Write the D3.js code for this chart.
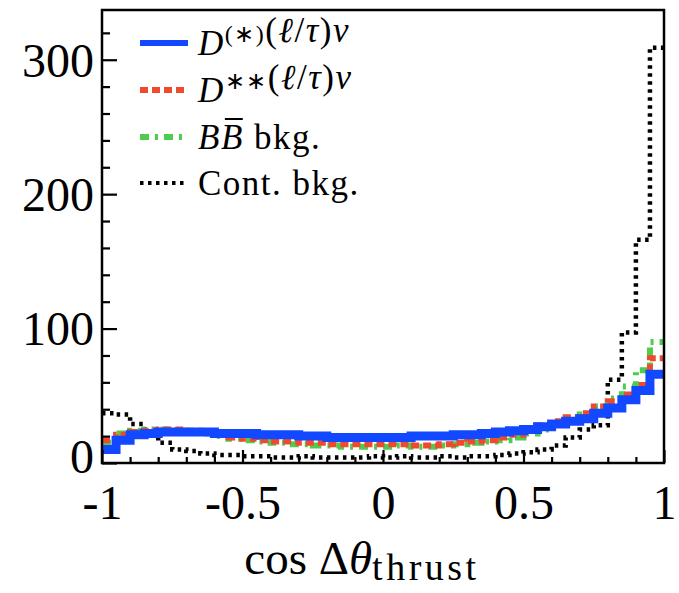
<!DOCTYPE html>
<html>
<head>
<meta charset="utf-8">
<script src="https://cdn.jsdelivr.net/npm/d3@7"></script>
<style>
  html, body { margin: 0; padding: 0; background: #fff; }
  svg { display: block; }
  text { font-family: "Liberation Serif", "Times New Roman", serif; fill: #000; }
</style>
</head>
<body>
<svg id="chart" width="679" height="593"></svg>
<script>
// ---- data (40 bins from -1 to 1) ----
const binEdges = d3.range(41).map(i => -1 + i * 0.05);
const dStar   = [10,17,21,22,23,23,23,23,22,22,22,21,21,21,20,20,19,19,19,19,19,19,20,20,20,21,21,22,23,24,25,27,29,31,33,37,41,47,54,66];
const dStarStar = [17,21,23,24,25,25,24,23,21,19,18,17,16,16,15,15,14,14,14,14,14,14,13,13,14,15,16,17,19,21,24,28,31,34,37,42,46,51,58,78];
const bbBkg   = [15,22,24,25,25,24,23,22,20,18,17,16,15,14,14,13,13,12,12,12,12,13,12,12,13,14,15,16,17,19,22,25,29,32,36,42,48,57,69,90];
const contBkg = [37,36,29,23,15,10,9,7,6,6,5,5,4,4,5,4,4,4,4,5,4,5,4,4,5,4,5,5,6,7,8,10,13,19,25,28,62,97,166,309];
const xMajorTicks = [-1, -0.5, 0, 0.5, 1];
const xTickLabels = ["-1", "-0.5", "0", "0.5", "1"];
const yMajorTicks = [0, 100, 200, 300];
const yTickLabels = ["0", "100", "200", "300"];
const legendLabels = ["D(*)(l/t)v", "D**(l/t)v", "BB bkg.", "Cont. bkg."];

// ---- layout ----
const svg = d3.select("#chart");
const L = 102, R = 664, T = 10, B = 463;
const x = d3.scaleLinear().domain([-1, 1]).range([L, R]);
const y = d3.scaleLinear().domain([0, 337]).range([B, T]);

const series = [
  { data: contBkg,   color: "#000000", width: 4.5, dash: "3.5,4.5" },
  { data: bbBkg,     color: "#4dcc4d", width: 6, dash: "9,6,3,6" },
  { data: dStarStar, color: "#f04a2e", width: 6, dash: "8,4" },
  { data: dStar,     color: "#1248ff", width: 9, dash: null }
];

const line = d3.line().x(d => x(d[0])).y(d => y(d[1])).curve(d3.curveStepAfter);

svg.append("defs").append("clipPath").attr("id", "plotclip")
  .append("rect").attr("x", L).attr("y", T).attr("width", R - L).attr("height", B - T);

const plot = svg.append("g").attr("clip-path", "url(#plotclip)");
series.forEach(s => {
  const pts = s.data.map((v, i) => [binEdges[i], v]);
  pts.push([binEdges[40], s.data[39]]);
  plot.append("path")
    .attr("d", line(pts))
    .attr("fill", "none")
    .attr("stroke", s.color)
    .attr("stroke-width", s.width)
    .attr("stroke-dasharray", s.dash)
    .attr("stroke-linejoin", "miter");
});

// ---- axes ----
const xMinor = d3.range(-10, 11).map(i => i / 10).filter(v => !xMajorTicks.some(m => Math.abs(m - v) < 1e-9));
const yMinor = d3.range(0, 337, 20).filter(v => v % 100 !== 0);

const xAxisMajor = d3.axisBottom(x).tickValues(xMajorTicks).tickSizeInner(-13).tickSizeOuter(0)
  .tickPadding(22).tickFormat((d, i) => xTickLabels[i]);
const xAxisMinor = d3.axisBottom(x).tickValues(xMinor).tickSizeInner(-6).tickSizeOuter(0).tickFormat("");
const yAxisMajor = d3.axisLeft(y).tickValues(yMajorTicks).tickSizeInner(-15).tickSizeOuter(0)
  .tickPadding(8).tickFormat((d, i) => yTickLabels[i]);
const yAxisMinor = d3.axisLeft(y).tickValues(yMinor).tickSizeInner(-8).tickSizeOuter(0).tickFormat("");

function styleAxis(g) {
  g.select(".domain").remove();
  g.selectAll("line").attr("stroke", "#000").attr("stroke-width", 2.2);
  g.selectAll("text").attr("font-family", "Liberation Serif, serif").attr("font-size", 48).attr("fill", "#000");
}
svg.append("g").attr("transform", `translate(0,${B})`).call(xAxisMinor).call(styleAxis);
svg.append("g").attr("transform", `translate(0,${B})`).call(xAxisMajor).call(styleAxis);
svg.append("g").attr("transform", `translate(${L},0)`).call(yAxisMinor).call(styleAxis);
const yg = svg.append("g").attr("transform", `translate(${L},0)`).call(yAxisMajor).call(styleAxis);
yg.selectAll("text").attr("dy", d => d === 0 ? "0.2em" : "0.34em");

// frame
svg.append("rect").attr("x", L).attr("y", T).attr("width", R - L).attr("height", B - T)
  .attr("fill", "none").attr("stroke", "#000").attr("stroke-width", 2.5);

// ---- x title ----
const xt = svg.append("text").attr("x", 362).attr("y", 574).attr("text-anchor", "middle").attr("font-size", 47);
xt.append("tspan").text("cos Δ");
xt.append("tspan").attr("font-style", "italic").text("θ");
xt.append("tspan").attr("font-size", 38).attr("dy", 6).attr("letter-spacing", 3.5).text("thrust");

// ---- legend ----
const legendY = [43, 90, 137, 183];
const legendSeries = [series[3], series[2], series[1], series[0]];
legendSeries.forEach((s, i) => {
  svg.append("line").attr("x1", 140).attr("x2", 188).attr("y1", legendY[i]).attr("y2", legendY[i])
    .attr("stroke", s.color).attr("stroke-width", i === 0 ? 6 : (i === 3 ? 4 : 6))
    .attr("stroke-dasharray", s.dash);
});
const lx = 198, fs = 35;
function legText(i) {
  return svg.append("text").attr("x", lx).attr("y", legendY[i] + 12).attr("font-size", fs)
    .attr("letter-spacing", 1.5).attr("data-label", legendLabels[i]);
}
function mathTail(t) {
  t.append("tspan").text("(");
  t.append("tspan").attr("font-style", "italic").text("ℓ");
  t.append("tspan").text("/");
  t.append("tspan").attr("font-style", "italic").text("τ");
  t.append("tspan").text(")");
  t.append("tspan").attr("font-style", "italic").text("ν");
}
let t0 = legText(0);
t0.append("tspan").attr("font-style", "italic").text("D");
t0.append("tspan").attr("font-size", 24).attr("dy", -13).text("(∗)");
t0.append("tspan").attr("dy", 13).text("");
mathTail(t0);
let t1 = legText(1);
t1.append("tspan").attr("font-style", "italic").text("D");
t1.append("tspan").attr("font-size", 24).attr("dy", -13).text("∗∗");
t1.append("tspan").attr("dy", 13).text("");
mathTail(t1);
let t2 = legText(2);
t2.append("tspan").attr("font-style", "italic").text("BB");
t2.append("tspan").text(" bkg.");
let t3 = legText(3);
t3.text("Cont. bkg.");
// overline on second B
try {
  const ext = t2.node().getExtentOfChar(1);
  svg.append("line").attr("x1", ext.x + 4).attr("x2", ext.x + ext.width - 1)
    .attr("y1", ext.y + 1).attr("y2", ext.y + 1).attr("stroke", "#000").attr("stroke-width", 2);
} catch (e) {}
</script>
</body>
</html>
